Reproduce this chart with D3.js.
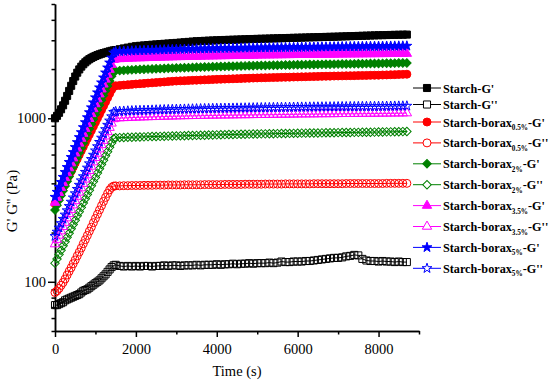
<!DOCTYPE html>
<html>
<head>
<meta charset="utf-8">
<script src="https://cdn.jsdelivr.net/npm/d3@7"></script>
<style>
  body { margin: 0; background: #fff; }
</style>
</head>
<body>
<div id="chart"></div>
<script>
// sampling times (s)
var time = [0,50,100,150,200,250,300,350,400,450,500,550,600,650,700,750,800,850,900,950,1000,1050,1100,1150,1200,1250,1300,1350,1400,1450,
  1500,1600,1700,1800,1900,2000,2100,2200,2300,2400,2500,2600,2700,2800,2900,3000,3100,3200,3300,3400,3500,3600,3700,3800,3900,
  4000,4100,4200,4300,4400,4500,4600,4700,4800,4900,5000,5100,5200,5300,5400,5500,5600,5700,5800,5900,
  6000,6100,6200,6300,6400,6500,6600,6700,6800,6900,7000,7100,7200,7300,7400,7500,7600,7700,7800,7900,
  8000,8100,8200,8300,8400,8500,8600,8700];

// Starch G' and G''
var starchG1 = [1000,1035,1080,1135,1200,1280,1370,1470,1580,1690,1800,1900,1990,2070,2140,2200,2255,2300,2340,2375,2405,2435,2460,2485,2505,2525,2545,2565,2585,2600,
  2615,2645,2675,2705,2735, 2760,2775,2790,2805,2818, 2830,2842,2855,2867,2879, 2890,2905,2918,2932,2946, 2960,2968,2976,2984,2992,
  3000,3006,3012,3018,3024, 3030,3036,3042,3048,3054, 3060,3065,3070,3075,3080, 3085,3090,3095,3100,3105, 3110,3115,3120,3125,3130,
  3135,3140,3145,3150,3155, 3160,3166,3172,3178,3184, 3190,3196,3202,3208,3214, 3220,3224,3229,3233,3238, 3242,3246,3250];
var starchG2 = [72,72,73,74,75,77,78,79,80,81,82,83,84,86,88,89,90,92,94,96,98,100,102,105,108,111,115,119,123,126,
  127,125,124,125,124, 125,124,125,125,124, 125,125,126,125,126, 126,125,126,126,126, 127,126,127,127,127,
  128,127,128,128,129, 128,129,129,130,129, 130,130,130,131,130, 131,133,132,132,133, 133,133,134,134,135,
  136,137,138,139,140, 140,141,143,144,146, 145,138,135,134,134, 133,134,133,133,132, 133,132,132];

// Starch-borax 0.5%
var borax05G1 = [300,318,336,356,377,400,424,449,475,503,533,564,598,633,670,710,752,796,843,893,945,1001,1060,1123,1189,1259,1333,1412,1495,1560,
  1580,1588,1596,1604,1612, 1620,1627,1634,1641,1648, 1655,1662,1669,1676,1683, 1690,1694,1698,1702,1706, 1710,1714,1718,1722,1726,
  1730,1734,1737,1741,1744, 1748,1751,1755,1758,1762, 1765,1768,1770,1773,1775, 1778,1780,1783,1785,1788, 1790,1793,1795,1798,1800,
  1803,1805,1808,1810,1813, 1815,1817,1819,1821,1823, 1825,1827,1829,1831,1833, 1835,1839,1842,1846,1849, 1853,1856,1860];
var borax05G2 = [86,88,91,95,99,104,110,116,122,129,136,144,152,161,171,181,192,204,216,230,244,259,275,292,310,328,347,365,378,385,
  386,386,387,387,388, 388,388,389,389,389, 390,390,390,391,391, 391,391,392,392,392, 392,392,393,393,393,
  393,393,394,394,394, 394,394,395,395,395, 395,395,396,396,396, 396,396,397,397,397, 397,397,397,397,398,
  398,398,398,398,398, 398,398,399,399,399, 399,399,399,399,399, 399,399,400,400,400, 400,400,400];

// Starch-borax 2%
var borax2G1 = [275,294,315,337,360,385,412,440,471,504,539,576,616,659,705,754,806,862,922,986,1055,1128,1206,1290,1380,1476,1578,1688,1805,1931,
  1950,1957,1964,1971,1978, 1985,1990,1994,1999,2003, 2008,2012,2017,2021,2026, 2030,2034,2038,2042,2046, 2050,2054,2058,2062,2066,
  2070,2073,2076,2079,2082, 2085,2088,2091,2094,2097, 2100,2102,2105,2107,2110, 2112,2115,2117,2120,2122, 2125,2127,2129,2131,2133,
  2135,2137,2139,2141,2143, 2145,2147,2149,2151,2153, 2155,2157,2159,2161,2163, 2165,2167,2169,2171,2173, 2176,2178,2180];
var borax2G2 = [130,138,147,156,166,176,187,198,211,224,238,253,268,285,303,322,342,363,386,410,435,462,491,522,554,589,625,664,706,750,
  760,762,763,765,766, 768,769,770,772,773, 774,775,776,778,779, 780,781,782,784,785, 786,787,788,790,791,
  792,793,794,795,796, 797,798,799,800,801, 802,803,803,804,805, 806,807,807,808,809, 810,811,811,812,813,
  813,814,815,815,816, 817,818,818,819,820, 820,821,822,822,823, 824,825,826,826,827, 828,829,830];

// Starch-borax 3.5%
var borax35G1 = [305,327,350,376,403,432,463,496,532,570,611,655,702,752,806,864,926,993,1064,1140,1222,1310,1404,1505,1613,1729,1853,1986,2128,2281,
  2300,2306,2312,2318,2324, 2330,2334,2338,2342,2346, 2350,2354,2358,2362,2366, 2370,2373,2376,2379,2382, 2385,2388,2391,2394,2397,
  2400,2402,2405,2407,2410, 2412,2415,2417,2420,2422, 2425,2427,2429,2431,2433, 2435,2437,2439,2441,2443, 2445,2446,2448,2449,2451,
  2452,2454,2455,2457,2458, 2460,2461,2463,2464,2466, 2467,2469,2470,2472,2473, 2475,2476,2478,2479,2480, 2482,2483,2485];
var borax35G2 = [170,181,192,204,217,230,245,260,276,294,312,332,352,374,398,423,449,477,507,539,573,609,647,687,730,776,825,876,931,990,
  1000,1002,1005,1007,1010, 1012,1014,1016,1018,1020, 1021,1023,1025,1027,1028, 1030,1031,1033,1034,1035, 1036,1037,1039,1040,1041,
  1042,1043,1043,1044,1045, 1046,1047,1047,1048,1049, 1050,1051,1051,1052,1053, 1054,1055,1055,1056,1057, 1058,1059,1059,1060,1060,
  1061,1062,1062,1063,1063, 1064,1065,1065,1066,1066, 1067,1068,1068,1069,1069, 1070,1071,1071,1072,1073, 1073,1074,1075];

// Starch-borax 5%
var borax5G1 = [330,354,380,407,437,468,502,539,578,620,665,713,765,820,880,944,1012,1086,1164,1249,1340,1437,1541,1653,1773,1902,2040,2188,2347,2517,
  2560,2566,2572,2578,2584, 2590,2595,2600,2605,2610, 2615,2620,2625,2630,2635, 2640,2644,2647,2651,2654, 2658,2661,2665,2668,2672,
  2675,2678,2680,2683,2685, 2688,2690,2693,2695,2698, 2700,2702,2704,2706,2708, 2710,2712,2714,2716,2718, 2720,2722,2724,2726,2728,
  2730,2732,2734,2736,2738, 2740,2742,2744,2745,2747, 2749,2751,2753,2754,2756, 2758,2760,2762,2763,2765, 2767,2768,2770];
var borax5G2 = [190,202,214,228,242,257,273,290,308,327,347,369,391,416,441,469,498,529,562,597,634,673,715,759,806,856,910,966,1026,1090,
  1100,1103,1106,1109,1112, 1115,1117,1119,1121,1123, 1125,1127,1129,1131,1133, 1135,1137,1138,1140,1141, 1143,1144,1146,1147,1149,
  1150,1151,1152,1153,1154, 1155,1156,1157,1158,1159, 1160,1161,1162,1163,1164, 1165,1166,1167,1168,1169, 1170,1171,1171,1172,1173,
  1173,1174,1175,1175,1176, 1177,1178,1178,1179,1179, 1180,1181,1181,1182,1182, 1183,1184,1185,1186,1187, 1188,1189,1190];

// legend text pieces
var labelBase = ["Starch-", "Starch-", "Starch-borax", "Starch-borax", "Starch-borax", "Starch-borax", "Starch-borax", "Starch-borax", "Starch-borax", "Starch-borax"];
var labelSub = ["", "", "0.5%", "0.5%", "2%", "2%", "3.5%", "3.5%", "5%", "5%"];
var labelTail = ["G'", "G''", "-G'", "-G''", "-G'", "-G''", "-G'", "-G''", "-G'", "-G''"];

// axis ticks
var xMajor = [0, 2000, 4000, 6000, 8000];
var xMinor = [1000, 3000, 5000, 7000, 9000];
var yMajor = [100, 1000];
var yMinor = [50, 60, 70, 80, 90, 200, 300, 400, 500, 600, 700, 800, 900, 2000, 3000, 4000, 5000];

var allValues = [starchG1, starchG2, borax05G1, borax05G2, borax2G1, borax2G2, borax35G1, borax35G2, borax5G1, borax5G2];
var colors = ["#000000", "#000000", "#ff0000", "#ff0000", "#008000", "#008000", "#ff00ff", "#ff00ff", "#0000ff", "#0000ff"];
var shapes = ["square", "square", "circle", "circle", "diamond", "diamond", "triangle", "triangle", "star", "star"];

var svg = d3.select("#chart").append("svg")
  .attr("width", 550)
  .attr("height", 382);

var x = d3.scaleLinear()
  .domain([0, 9000])
  .range([55, 419]);

var y = d3.scaleLog()
  .domain([50, 5000])
  .range([331, 4]);

var font = "'Liberation Serif', 'Times New Roman', serif";

// axes
svg.append("g")
  .attr("class", "axis")
  .attr("transform", "translate(0,331)")
  .call(d3.axisBottom(x).tickValues(xMinor).tickSize(3.5).tickSizeOuter(0).tickFormat(""));
svg.append("g")
  .attr("class", "axis")
  .attr("transform", "translate(0,331)")
  .call(d3.axisBottom(x).tickValues(xMajor).tickSize(6).tickSizeOuter(0).tickPadding(7).tickFormat(d3.format("d")));

svg.append("g")
  .attr("class", "axis")
  .attr("transform", "translate(55,0)")
  .call(d3.axisLeft(y).tickValues(yMinor).tickSize(3.5).tickSizeOuter(0).tickFormat(""));
svg.append("g")
  .attr("class", "axis")
  .attr("transform", "translate(55,0)")
  .call(d3.axisLeft(y).tickValues(yMajor).tickSize(7).tickSizeOuter(0).tickPadding(2).tickFormat(d3.format("d")));

svg.selectAll(".axis path, .axis line")
  .attr("stroke", "#000")
  .attr("stroke-width", 1.5);
svg.selectAll(".axis text")
  .attr("font-family", font)
  .attr("font-size", "14.5px")
  .attr("fill", "#000");

// axis titles
svg.append("text")
  .attr("x", 237)
  .attr("y", 376)
  .attr("text-anchor", "middle")
  .attr("font-family", font)
  .attr("font-size", "14.5px")
  .text("Time (s)");

svg.append("text")
  .attr("transform", "translate(16.5,201) rotate(-90)")
  .attr("text-anchor", "middle")
  .attr("font-family", font)
  .attr("font-size", "15px")
  .text("G' G'' (Pa)");

function markerPath(shape) {
  if (shape === "square") return d3.symbol(d3.symbolSquare, 50)();
  if (shape === "circle") return d3.symbol(d3.symbolCircle, 50)();
  if (shape === "diamond") return d3.symbol(d3.symbolSquare, 36)();
  if (shape === "triangle") return d3.symbol(d3.symbolTriangle, 38)();
  return d3.symbol(d3.symbolStar, 30)();
}

function markerTransform(shape, px, py) {
  return "translate(" + px + "," + py + ")" + (shape === "diamond" ? " rotate(45)" : "");
}

var line = d3.line()
  .x(function(d, i) { return x(time[i]) })
  .y(function(d) { return y(d) });

// series
allValues.forEach(function(values, k) {
  var filled = k % 2 === 0;
  var g = svg.append("g");
  g.append("path")
    .datum(values)
    .attr("fill", "none")
    .attr("stroke", colors[k])
    .attr("stroke-width", 1)
    .attr("d", line);
  g.selectAll("path.pt")
    .data(values)
    .enter().append("path")
    .attr("class", "pt")
    .attr("d", markerPath(shapes[k]))
    .attr("transform", function(d, i) { return markerTransform(shapes[k], x(time[i]), y(d)) })
    .attr("fill", filled ? colors[k] : "none")
    .attr("stroke", colors[k])
    .attr("stroke-width", 1);
});

// legend
var legend = svg.append("g");
allValues.forEach(function(values, k) {
  var ly = k < 2 ? 88 + k * 16.5 : 122 + (k - 2) * 20.9;
  var filled = k % 2 === 0;
  legend.append("line")
    .attr("x1", 413).attr("x2", 441)
    .attr("y1", ly).attr("y2", ly)
    .attr("stroke", colors[k])
    .attr("stroke-width", 1);
  legend.append("path")
    .attr("d", markerPath(shapes[k]))
    .attr("transform", markerTransform(shapes[k], 427, ly))
    .attr("fill", filled ? colors[k] : "#fff")
    .attr("stroke", colors[k])
    .attr("stroke-width", 1);
  var t = legend.append("text")
    .attr("x", 443)
    .attr("y", ly + 4.5)
    .attr("font-family", font)
    .attr("font-weight", "bold")
    .attr("font-size", "12.2px")
    .attr("fill", "#000");
  t.append("tspan").text(labelBase[k]);
  if (labelSub[k]) {
    t.append("tspan").attr("dy", 3.5).attr("font-size", "7.2px").text(labelSub[k]);
    t.append("tspan").attr("dy", -3.5).text(labelTail[k]);
  } else {
    t.append("tspan").text(labelTail[k]);
  }
});
</script>
</body>
</html>
